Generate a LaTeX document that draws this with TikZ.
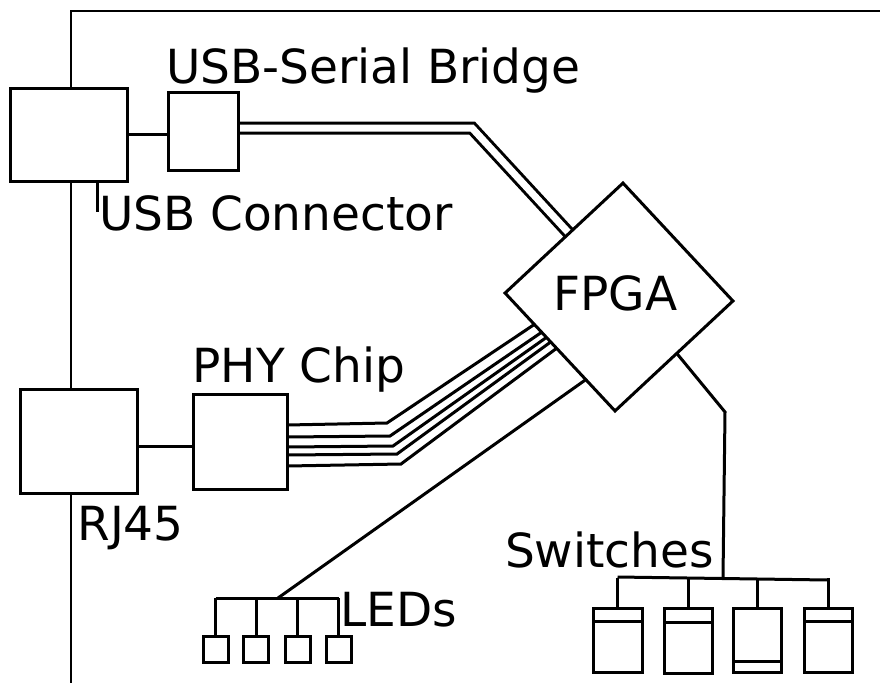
\documentclass[tikz,border=0pt]{standalone}
\usepackage{fontspec}
\setmainfont{DejaVu Sans}
\usetikzlibrary{shapes.geometric}
\pgfdeclarelayer{bg}
\pgfsetlayers{bg,main}
\begin{document}
\begin{tikzpicture}[x=1pt,y=-1pt,
  box/.style={draw,fill=white,line width=3pt,inner sep=0pt,outer sep=0pt},
  wire/.style={line width=3pt},
  board/.style={line width=2pt},
  lbl/.style={anchor=base west,inner sep=0pt,outer sep=0pt,font=\fontsize{47}{56}\selectfont}]
\useasboundingbox (0,0) rectangle (880,683);
% board outline corner points
\coordinate (bTR) at (880,11);
\coordinate (bTL) at (71,11);
\coordinate (bBL) at (71,683);
% main blocks
\node[box,minimum width=117pt,minimum height=93pt] (usb) at (68.5,134.5) {};
\node[box,minimum width=70pt,minimum height=78pt] (bridge) at (203,131) {};
\node[box,minimum width=117pt,minimum height=104pt] (rj) at (78.5,441) {};
\node[box,minimum width=94pt,minimum height=95pt] (phy) at (240,441.5) {};
\node[box,regular polygon,regular polygon sides=4,minimum size=228pt,shape border rotate=43] (fpga) at (619,297) {};
% LEDs
\foreach \n/\x in {1/215.5,2/256,3/297.5,4/338.5}
  \node[box,minimum width=25pt,minimum height=26pt] (led\n) at (\x,649) {};
% switches
\node[box,minimum width=49pt,minimum height=64pt] (sw1) at (617.5,640) {};
\node[box,minimum width=48pt,minimum height=65pt] (sw2) at (688,640.5) {};
\node[box,minimum width=48pt,minimum height=64pt] (sw3) at (757,640) {};
\node[box,minimum width=48pt,minimum height=64pt] (sw4) at (828,640) {};
\draw[wire] ([yshift=-13pt]sw1.north west) -- ([yshift=-13pt]sw1.north east);
\draw[wire] ([yshift=-14pt]sw2.north west) -- ([yshift=-14pt]sw2.north east);
\draw[wire] ([yshift=11pt]sw3.south west) -- ([yshift=11pt]sw3.south east);
\draw[wire] ([yshift=-13pt]sw4.north west) -- ([yshift=-13pt]sw4.north east);
% labels
\node[lbl] (lbridge) at (166,83) {USB-Serial Bridge};
\node[lbl] (lusb) at (99,230) {USB Connector};
\node[lbl] (lphy) at (192.4,382) {PHY Chip};
\node[lbl] (lrj) at (77.4,540) {RJ45};
\node[lbl] (lfpga) at (553.4,310) {FPGA};
\node[lbl] (lled) at (340.4,626) {LEDs};
\node[lbl] (lsw) at (505,567) {Switches};
% helper coordinates
\coordinate (stub) at (97,212);
\coordinate (rjphy) at (137,446);
\coordinate (ubend) at (472,128);
\coordinate (uend) at (590,256);
\coordinate (ustart) at (238,128);
\foreach \i/\sy/\cx/\cy/\ex/\ey in {1/425/387/423/535/324,2/437/390/436/542/332,3/447/393/446/547/337,4/455/397/454/552/341,5/466/401/464/557/348}{
  \coordinate (ps\i) at (287,\sy);
  \coordinate (pb\i) at (\cx,\cy);
  \coordinate (pe\i) at (\ex,\ey);
}
\coordinate (ledin) at (605,366);
\coordinate (ledj) at (278,598);
\coordinate (ledL) at (215.5,598);
\coordinate (ledR) at (338.5,598);
\coordinate (swin) at (660,333);
\coordinate (swbend) at (725,412);
\coordinate (swj) at (723,578);
\coordinate (swL) at (617.5,577);
\coordinate (swR) at (828,580);
\begin{pgfonlayer}{bg}
  \draw[board] (bTR) -- (bTL) -- (bBL);
  \draw[wire] (usb.east) -- (usb.east -| bridge.west);
  \draw[wire] (stub |- usb.south) -- (stub);
  \draw[wire] (rjphy) -- (rjphy -| phy.west);
  \draw[line width=3pt,double=white,double distance=7pt] (ustart) -- (ubend) -- (uend);
  \foreach \i in {1,...,5}
    \draw[wire] (ps\i) -- (pb\i) -- (pe\i);
  \draw[wire] (ledin) -- (ledj);
  \draw[wire] (ledL) -- (ledR);
  \foreach \n in {1,...,4}
    \draw[wire] (led\n.north |- ledL) -- (led\n.north);
  \draw[wire] (swin) -- (swbend) -- (swj);
  \draw[wire] (swL) -- (swR);
  \foreach \n in {1,...,4}
    \draw[wire] (sw\n.north |- swj) -- (sw\n.north);
\end{pgfonlayer}
\end{tikzpicture}
\end{document}
